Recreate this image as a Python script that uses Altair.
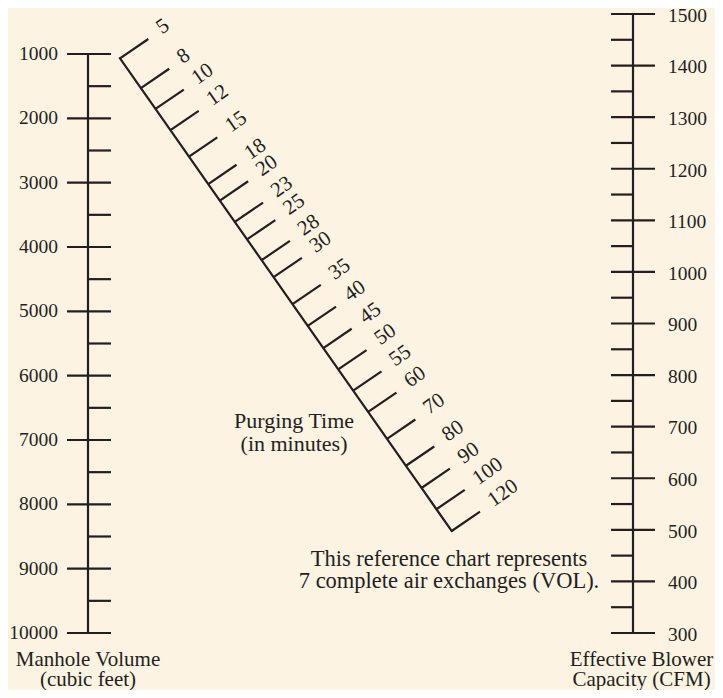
import altair as alt
import pandas as pd

# ---------------- data ----------------
volume_major = [1000, 2000, 3000, 4000, 5000, 6000, 7000, 8000, 9000, 10000]
volume_minor = [1500, 2500, 3500, 4500, 5500, 6500, 7500, 8500, 9500]
cfm_major = [300, 400, 500, 600, 700, 800, 900, 1000, 1100, 1200, 1300, 1400, 1500]
cfm_minor = [350, 450, 550, 650, 750, 850, 950, 1050, 1150, 1250, 1350, 1450]
minutes = [5, 8, 10, 12, 15, 18, 20, 23, 25, 28, 30, 35, 40, 45, 50, 55, 60, 70, 80, 90, 100, 120]
# reading of the purging-time scale: share of the diagonal from its top end (0) to its bottom end (1)
minutes_along = [0.000, 0.063, 0.107, 0.152, 0.208, 0.266, 0.301, 0.346, 0.383, 0.427, 0.463,
                 0.520, 0.566, 0.613, 0.658, 0.703, 0.748, 0.805, 0.862, 0.909, 0.954, 1.000]

left_title = ["Manhole Volume", "(cubic feet)"]
right_title = ["Effective Blower", "Capacity (CFM)"]
time_title = ["Purging Time", "(in minutes)"]
note_text = ["This reference chart represents", "7 complete air exchanges (VOL)."]

# ---------------- style / layout ----------------
INK = "#231f20"
PAPER = "#fcf3e3"
FONT = "Liberation Serif"
W, H = 707, 682


def lin(va, pa, vb, pb, size):
    k = (vb - va) / (pb - pa)
    return va - pa * k, va + (size - pa) * k


x0, x1 = lin(0, 80, 1, 625, W)          # 0 = volume scale, 1 = blower scale
X_AX = alt.Scale(domain=[x0, x1], nice=False, zero=False)
v0, v1 = lin(1000, 46, 10000, 625, H)
Y_VOL = alt.Scale(domain=[v0, v1], reverse=True, nice=False, zero=False)
q0, q1 = lin(1500, 6, 300, 625, H)
Y_CFM = alt.Scale(domain=[q1, q0], nice=False, zero=False)
d0, d1 = lin(0, 112, 1, 443.7, W)
X_DIA = alt.Scale(domain=[d0, d1], nice=False, zero=False)
e0, e1 = lin(0, 50.3, 1, 523, H)
Y_DIA = alt.Scale(domain=[e0, e1], reverse=True, nice=False, zero=False)


def xy(xf, xs, yf, ys):
    return dict(x=alt.X(f"{xf}:Q", scale=xs, axis=None),
                y=alt.Y(f"{yf}:Q", scale=ys, axis=None))


layers = []

# ----- left scale: manhole volume -----
vol_major_df = pd.DataFrame({"ax": 0.0, "v": volume_major})
vol_minor_df = pd.DataFrame({"ax": 0.0, "v": volume_minor})
vol_line_df = pd.DataFrame({"ax": [0.0], "v": [min(volume_major)], "v2": [max(volume_major)]})

layers.append(alt.Chart(vol_line_df).mark_rule(color=INK, strokeWidth=2.2).encode(
    **xy("ax", X_AX, "v", Y_VOL), y2=alt.Y2("v2")))
layers.append(alt.Chart(vol_major_df).mark_rule(color=INK, strokeWidth=2.2, xOffset=-21, x2Offset=23).encode(
    **xy("ax", X_AX, "v", Y_VOL), x2=alt.X2("ax")))
layers.append(alt.Chart(vol_minor_df).mark_rule(color=INK, strokeWidth=2.2, xOffset=0, x2Offset=23).encode(
    **xy("ax", X_AX, "v", Y_VOL), x2=alt.X2("ax")))
layers.append(alt.Chart(vol_major_df).mark_text(font=FONT, fontSize=19.5, color=INK, align="right",
                                                baseline="middle", dx=-30).encode(
    **xy("ax", X_AX, "v", Y_VOL), text=alt.Text("v:Q", format="d")))

# ----- right scale: blower capacity -----
cfm_major_df = pd.DataFrame({"ax": 1.0, "q": cfm_major})
cfm_minor_df = pd.DataFrame({"ax": 1.0, "q": cfm_minor})
cfm_line_df = pd.DataFrame({"ax": [1.0], "q": [min(cfm_major)], "q2": [max(cfm_major)]})

layers.append(alt.Chart(cfm_line_df).mark_rule(color=INK, strokeWidth=2.2).encode(
    **xy("ax", X_AX, "q", Y_CFM), y2=alt.Y2("q2")))
layers.append(alt.Chart(cfm_major_df).mark_rule(color=INK, strokeWidth=2.2, xOffset=-22, x2Offset=22).encode(
    **xy("ax", X_AX, "q", Y_CFM), x2=alt.X2("ax")))
layers.append(alt.Chart(cfm_minor_df).mark_rule(color=INK, strokeWidth=2.2, xOffset=-22, x2Offset=0).encode(
    **xy("ax", X_AX, "q", Y_CFM), x2=alt.X2("ax")))
layers.append(alt.Chart(cfm_major_df).mark_text(font=FONT, fontSize=19.5, color=INK, align="left",
                                                baseline="middle", dx=35, dy=1.8).encode(
    **xy("ax", X_AX, "q", Y_CFM), text=alt.Text("q:Q", format="d")))

# ----- diagonal scale: purging time -----
time_df = pd.DataFrame({"t": minutes, "s": minutes_along})
layers.append(alt.Chart(time_df).mark_line(color=INK, strokeWidth=2.2, strokeCap="square").encode(
    **xy("s", X_DIA, "s", Y_DIA), order="s:Q"))
layers.append(alt.Chart(time_df).mark_rule(color=INK, strokeWidth=2.2, x2Offset=28.3, y2Offset=-19.3).encode(
    **xy("s", X_DIA, "s", Y_DIA), x2=alt.X2("s"), y2=alt.Y2("s")))
layers.append(alt.Chart(time_df).mark_text(font=FONT, fontSize=21, color=INK, align="left", baseline="middle",
                                           angle=325, dx=48, dy=-1.5).encode(
    **xy("s", X_DIA, "s", Y_DIA), text=alt.Text("t:Q", format="d")))


def note(df, xf, xs, yf, ys, lines, dx, dys, size):
    out = []
    for line, dy in zip(lines, dys):
        d = df.copy()
        d["label"] = line
        out.append(alt.Chart(d).mark_text(font=FONT, fontSize=size, color=INK, align="center",
                                          baseline="alphabetic", dx=dx, dy=dy).encode(
            **xy(xf, xs, yf, ys), text="label:N"))
    return out


# titles anchored to the ends of their scales
layers += note(pd.DataFrame({"ax": [0.0], "v": [max(volume_major)]}), "ax", X_AX, "v", Y_VOL,
               left_title, 0, [32.5, 52.5], 21)
layers += note(pd.DataFrame({"ax": [1.0], "q": [min(cfm_major)]}), "ax", X_AX, "q", Y_CFM,
               right_title, 8.5, [32.5, 52.5], 21)
layers += note(time_df[time_df["t"] == 70], "s", X_DIA, "s", Y_DIA,
               time_title, -93, [-10.5, 11.9], 22)
layers += note(pd.DataFrame({"ax": [1.0], "q": [400]}), "ax", X_AX, "q", Y_CFM,
               note_text, -184, [-15.4, 6.3], 22.5)

PAGE_CSS = "body{background:#fcf3e3;overflow:hidden}svg{display:block;overflow:visible}"

chart = alt.layer(*layers).resolve_scale(x="independent", y="independent").properties(
    width=W, height=H,
    padding=0,
    autosize=alt.AutoSizeParams(type="none"),
    background=PAPER,
    usermeta={"embedOptions": {"defaultStyle": PAGE_CSS}},
).configure_view(strokeWidth=0)

chart.save("out.html", embed_options={"renderer": "svg", "actions": False})
